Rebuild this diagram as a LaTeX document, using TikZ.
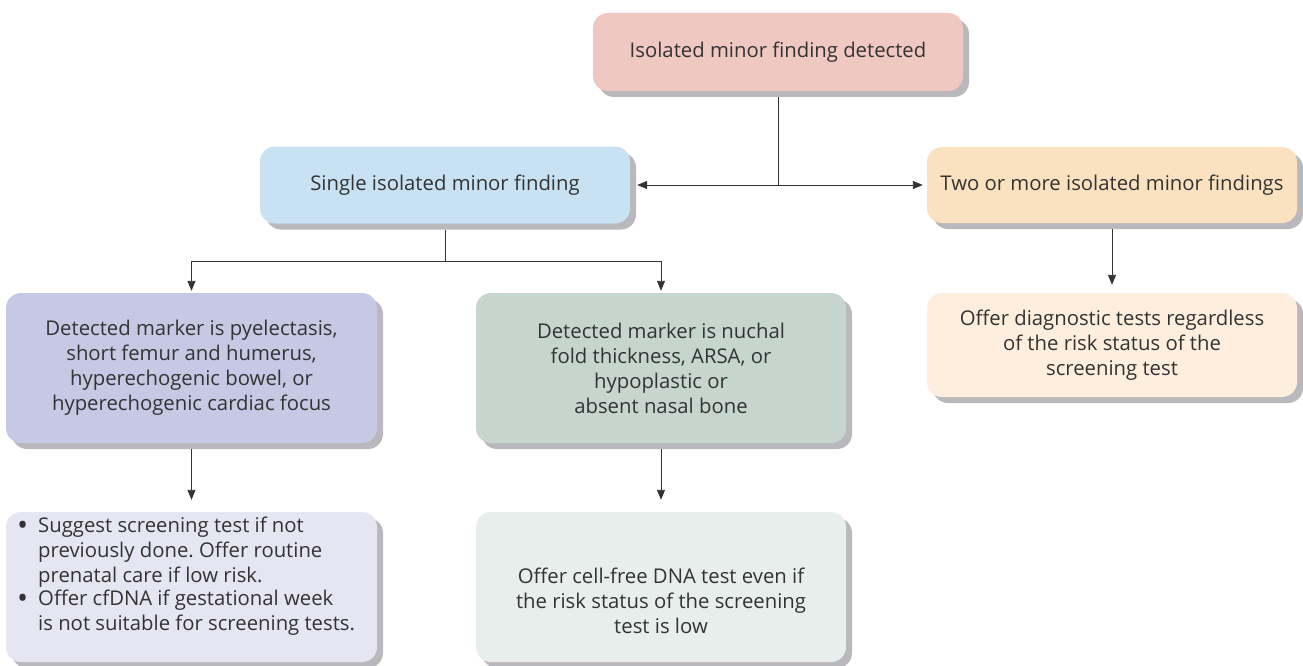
\documentclass[tikz,border=0pt]{standalone}
\usepackage{fontspec}
\setmainfont{Open Sans}
\usetikzlibrary{shadows,arrows.meta}
\definecolor{cTop}{HTML}{EFC8C1}
\definecolor{cSingle}{HTML}{C8E2F4}
\definecolor{cTwo}{HTML}{FAE2C1}
\definecolor{cPurple}{HTML}{C6C8E4}
\definecolor{cGreen}{HTML}{C6D6CE}
\definecolor{cPeach}{HTML}{FDEEDE}
\definecolor{cBL}{HTML}{E6E6F3}
\definecolor{cBG}{HTML}{E8EEEC}
\definecolor{cShadow}{HTML}{B9B9BD}
\definecolor{cText}{HTML}{333333}
\frenchspacing
\newcommand{\mybul}{\makebox[21pt][l]{\raisebox{-3pt}{\scalebox{1.45}{\textbullet}}}}
\begin{document}
\begin{tikzpicture}[x=1pt,y=1pt,
  box/.style={rounded corners=15pt, draw=none, align=center, text=cText,
    font=\fontsize{20.3}{25}\selectfont, inner sep=0pt,
    general shadow={fill=cShadow, shadow xshift=6pt, shadow yshift=-6pt}},
  txt/.style={align=center, text=cText, font=\fontsize{20.3}{25}\selectfont, inner sep=0pt},
  arr/.style={draw=cText, line width=0.9pt, -{Triangle[length=10pt,width=8pt]}},
  ln/.style={draw=cText, line width=0.9pt}]
\useasboundingbox (0,0) rectangle (1303,-666);
\node[box, fill=cTop, minimum width=370pt, minimum height=78pt] (top) at (778,-52) {Isolated minor finding detected};
\node[box, fill=cSingle, minimum width=370pt, minimum height=77pt] (single) at (445,-185) {Single isolated minor finding};
\node[box, fill=cTwo, minimum width=370pt, minimum height=76pt] (two) at (1112,-185) {Two or more isolated minor findings};
\node[box, fill=cPurple, minimum width=371pt, minimum height=150pt] (purple) at (191.5,-368) {Detected marker is pyelectasis,\\short femur and humerus,\\hyperechogenic bowel, or\\hyperechogenic cardiac focus};
\node[box, fill=cGreen, minimum width=370pt, minimum height=150pt] (green) at (661,-368) {Detected marker is nuchal\\fold thickness, ARSA, or\\hypoplastic or\\absent nasal bone};
\node[box, fill=cPeach, minimum width=370pt, minimum height=104pt] (peach) at (1112,-345) {Offer diagnostic tests regardless\\of the risk status of the\\screening test};
\node[box, fill=cBL, minimum width=371pt, minimum height=150pt] (bl) at (191.5,-587) {};
\node[box, fill=cBG, minimum width=370pt, minimum height=150pt] (bg) at (661,-587) {};
\node[txt, align=left, anchor=north west] (blt) at (17,-517) {\mybul\parbox[t]{330pt}{Suggest screening test if not\\previously done. Offer routine\\prenatal care if low risk.}\\[1pt]
\mybul\parbox[t]{330pt}{Offer cfDNA if gestational week\\is not suitable for screening tests.}};
\node[txt] (bgt) at (661,-601) {Offer cell-free DNA test even if\\the risk status of the screening\\test is low};
\coordinate (j1) at (778,-185);
\coordinate (j2) at (445,-261);
\draw[ln, shorten <=6pt] (top.south) -- (j1);
\draw[arr, shorten >=7pt] (j1) -- (single.east);
\draw[arr, shorten >=4pt] (j1) -- (two.west);
\draw[ln, shorten <=6pt] (single.south) -- (j2);
\draw[arr, shorten >=2pt] (j2) -| (purple.north);
\draw[arr, shorten >=2pt] (j2) -| (green.north);
\draw[arr, shorten <=6pt, shorten >=8pt] (two.south) -- (peach.north);
\draw[arr, shorten <=6pt, shorten >=12pt] (purple.south) -- (bl.north);
\draw[arr, shorten <=6pt, shorten >=12pt] (green.south) -- (bg.north);
\end{tikzpicture}
\end{document}
